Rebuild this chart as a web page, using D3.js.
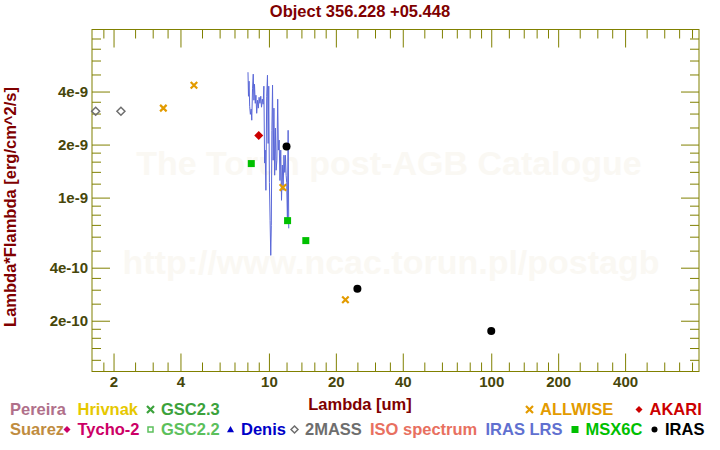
<!DOCTYPE html>
<html><head><meta charset="utf-8">
<script src="https://cdn.jsdelivr.net/npm/d3@7"></script>
<style>body{margin:0;background:#fff}svg{display:block;font-family:"Liberation Sans",Arial,sans-serif;font-weight:bold}</style>
</head><body><svg id="c" width="720" height="450"></svg>
<script>
// ---- data ----
const title = "Object 356.228 +05.448";
const xMajor = [2, 4, 10, 20, 40, 100, 200, 400];
const xMinor = [1.8, 2.5, 3, 3.5, 5, 6, 7, 8, 9, 12, 14, 16, 18, 25, 30, 35, 50, 60, 70, 80, 90, 120, 140, 160, 180, 250, 300, 350, 500, 600, 700, 800];
const yMajor = [2e-10, 4e-10, 1e-9, 2e-9, 4e-9];
const yMajorLabels = ["2e-10", "4e-10", "1e-9", "2e-9", "4e-9"];
const yMinor = [1.2e-10, 1.4e-10, 1.6e-10, 1.8e-10, 2.5e-10, 3e-10, 3.5e-10, 5e-10, 6e-10, 7e-10, 8e-10, 9e-10, 1.2e-9, 1.4e-9, 1.6e-9, 1.8e-9, 2.5e-9, 3e-9, 3.5e-9, 5e-9, 6e-9, 7e-9, 8e-9];

const twomassLam = [1.662, 2.159];
const twomassFlux = [3.09e-9, 3.09e-9];
const allwiseLam = [3.35, 4.6, 11.56, 22.08];
const allwiseFlux = [3.22e-9, 4.34e-9, 1.14e-9, 2.63e-10];
const akariLam = [9.0];
const akariFlux = [2.25e-9];
const msxLam = [8.33, 12.13, 14.65];
const msxFlux = [1.56e-9, 7.4e-10, 5.7e-10];
const irasLam = [12, 25, 100];
const irasFlux = [1.95e-9, 3.04e-10, 1.75e-10];

const lrsLam = [8.05, 8.09, 8.14, 8.19, 8.25, 8.32, 8.37, 8.44, 8.50, 8.56, 8.61, 8.68, 8.74, 8.81, 8.89, 8.96, 9.03, 9.11, 9.19, 9.26, 9.34, 9.42, 9.49, 9.56, 9.62, 9.69, 9.77, 9.85, 9.92, 9.98, 10.05, 10.12, 10.19, 10.25, 10.31, 10.38, 10.45, 10.53, 10.61, 10.69, 10.77, 10.86, 10.95, 11.03, 11.12, 11.21, 11.30, 11.39, 11.49, 11.58, 11.68, 11.78, 11.86, 11.95, 12.02, 12.11, 12.20, 12.28];
const lrsFlux = [5.15e-9, 3.76e-9, 4.58e-9, 3.30e-9, 2.97e-9, 3.18e-9, 2.75e-9, 4.18e-9, 5.02e-9, 3.57e-9, 4.40e-9, 3.43e-9, 3.81e-9, 3.01e-9, 3.57e-9, 3.22e-9, 3.71e-9, 3.43e-9, 3.76e-9, 3.26e-9, 3.62e-9, 3.39e-9, 4.29e-9, 1.57e-9, 1.86e-9, 1.10e-9, 3.76e-9, 4.95e-9, 2.03e-9, 4.29e-9, 1.22e-9, 7.43e-10, 4.70e-10, 6.96e-10, 2.41e-9, 4.35e-9, 1.63e-9, 3.22e-9, 1.34e-9, 2.48e-9, 1.43e-9, 1.63e-9, 3.62e-9, 1.86e-9, 2.12e-9, 1.25e-9, 1.86e-9, 9.65e-10, 1.53e-9, 1.10e-9, 1.74e-9, 1.39e-9, 1.74e-9, 1.34e-9, 1.22e-9, 7.43e-10, 2.41e-9, 6.69e-10];

const legendRow1 = [
  {label:"Pereira", color:"#b0708a", sym:null, x:10},
  {label:"Hrivnak", color:"#e6c800", sym:null, x:77.5},
  {label:"GSC2.3", color:"#3ca23c", sym:"x", x:161},
  {label:"ALLWISE", color:"#e39b00", sym:"x", x:540},
  {label:"AKARI", color:"#cc0000", sym:"diamond", x:649.5}
];
const legendRow2 = [
  {label:"Suarez", color:"#c08c40", sym:null, x:10},
  {label:"Tycho-2", color:"#cc0066", sym:"diamond", x:77.5},
  {label:"GSC2.2", color:"#5cc05c", sym:"square-open", x:161},
  {label:"Denis", color:"#0000c8", sym:"triangle", x:241},
  {label:"2MASS", color:"#6e6e6e", sym:"diamond-open", x:305},
  {label:"ISO spectrum", color:"#e87060", sym:null, x:370},
  {label:"IRAS LRS", color:"#6070d0", sym:null, x:485.5},
  {label:"MSX6C", color:"#00c000", sym:"square", x:585.5},
  {label:"IRAS", color:"#000000", sym:"circle", x:665}
];

// ---- chart ----
const svg = d3.select("#c");
const L = 92, R = 699, T = 29.5, B = 371.5;
const x = d3.scaleLog().domain([1.6, 860]).range([L, R]);
const y = d3.scaleLog().domain([1.03e-10, 9.0e-9]).range([B, T]);
const axisCol = "#808000", tickTxt = "#46460a";

// watermark
svg.append("text").attr("x", 389).attr("y", 175).attr("text-anchor", "middle")
  .attr("font-size", 34).attr("fill", "#faf8f3").text("The Torun post-AGB Catalogue");
svg.append("text").attr("x", 391).attr("y", 274).attr("text-anchor", "middle")
  .attr("font-size", 34).attr("fill", "#faf8f3").text("http://www.ncac.torun.pl/postagb");

// title
svg.append("text").attr("x", 360).attr("y", 17).attr("text-anchor", "middle")
  .attr("font-size", 16.5).attr("fill", "#800000").text(title);

function styleAxis(g, labels) {
  g.select(".domain").remove();
  g.selectAll(".tick line").attr("stroke", axisCol);
  g.selectAll(".tick text").attr("fill", tickTxt).attr("font-size", 15)
    .attr("font-family", '"Liberation Sans",Arial,sans-serif').attr("font-weight", "bold");
  if (!labels) g.selectAll(".tick text").remove();
}
const fmtY = d => yMajorLabels[yMajor.indexOf(d)];
// bottom
svg.append("g").attr("transform", `translate(0,${B})`)
  .call(d3.axisBottom(x).tickValues(xMajor).tickSize(-18).tickPadding(5).tickFormat(d3.format("d"))).call(g => styleAxis(g, true));
svg.append("g").attr("transform", `translate(0,${B})`)
  .call(d3.axisBottom(x).tickValues(xMinor).tickSize(-9)).call(g => styleAxis(g, false));
// top
svg.append("g").attr("transform", `translate(0,${T})`)
  .call(d3.axisTop(x).tickValues(xMajor).tickSize(-18)).call(g => styleAxis(g, false));
svg.append("g").attr("transform", `translate(0,${T})`)
  .call(d3.axisTop(x).tickValues(xMinor).tickSize(-9)).call(g => styleAxis(g, false));
// left
svg.append("g").attr("transform", `translate(${L},0)`)
  .call(d3.axisLeft(y).tickValues(yMajor).tickSize(-18).tickPadding(4).tickFormat(fmtY)).call(g => styleAxis(g, true));
svg.append("g").attr("transform", `translate(${L},0)`)
  .call(d3.axisLeft(y).tickValues(yMinor).tickSize(-9)).call(g => styleAxis(g, false));
// right
svg.append("g").attr("transform", `translate(${R},0)`)
  .call(d3.axisRight(y).tickValues(yMajor).tickSize(-18)).call(g => styleAxis(g, false));
svg.append("g").attr("transform", `translate(${R},0)`)
  .call(d3.axisRight(y).tickValues(yMinor).tickSize(-9)).call(g => styleAxis(g, false));
// frame
svg.append("rect").attr("x", L).attr("y", T).attr("width", R - L).attr("height", B - T)
  .attr("fill", "none").attr("stroke", axisCol).attr("stroke-width", 1);

// axis titles
svg.append("text").attr("x", 360).attr("y", 410).attr("text-anchor", "middle")
  .attr("font-size", 16.5).attr("fill", "#800000").text("Lambda [um]");
svg.append("text").attr("transform", "translate(15.5,207) rotate(-90)").attr("text-anchor", "middle")
  .attr("font-size", 16.5).attr("fill", "#800000").text("Lambda*Flambda [erg/cm^2/s]");

// symbol drawing
function drawSym(g, type, cx, cy, s, color) {
  const h = s / 2;
  if (type === "x") {
    g.append("path").attr("d", `M${cx-h},${cy-h}L${cx+h},${cy+h}M${cx-h},${cy+h}L${cx+h},${cy-h}`)
      .attr("stroke", color).attr("stroke-width", 2.2).attr("fill", "none");
  } else if (type === "diamond" || type === "diamond-open") {
    const p = g.append("path").attr("d", `M${cx},${cy-h}L${cx+h},${cy}L${cx},${cy+h}L${cx-h},${cy}Z`);
    if (type === "diamond") p.attr("fill", color);
    else p.attr("fill", "none").attr("stroke", color).attr("stroke-width", 1.5);
  } else if (type === "square" || type === "square-open") {
    const p = g.append("rect").attr("x", cx - h).attr("y", cy - h).attr("width", s).attr("height", s);
    if (type === "square") p.attr("fill", color);
    else p.attr("fill", "none").attr("stroke", color).attr("stroke-width", 1.5);
  } else if (type === "circle") {
    g.append("circle").attr("cx", cx).attr("cy", cy).attr("r", h).attr("fill", color);
  } else if (type === "triangle") {
    g.append("path").attr("d", `M${cx},${cy-h}L${cx+h},${cy+h*0.8}L${cx-h},${cy+h*0.8}Z`).attr("fill", color);
  }
}

// IRAS LRS spectrum
const lrs = lrsLam.map((l, i) => [l, lrsFlux[i]]);
svg.append("path").datum(lrs)
  .attr("d", d3.line().x(d => x(d[0])).y(d => y(d[1])))
  .attr("fill", "none").attr("stroke", "#5a68d8").attr("stroke-width", 1);

const marks = svg.append("g");
twomassLam.forEach((l, i) => drawSym(marks, "diamond-open", x(l), y(twomassFlux[i]), 8, "#6e6e6e"));
allwiseLam.forEach((l, i) => drawSym(marks, "x", x(l), y(allwiseFlux[i]), 6.5, "#e39b00"));
akariLam.forEach((l, i) => drawSym(marks, "diamond", x(l), y(akariFlux[i]), 9, "#cc0000"));
msxLam.forEach((l, i) => drawSym(marks, "square", x(l), y(msxFlux[i]), 7, "#00c000"));
irasLam.forEach((l, i) => drawSym(marks, "circle", x(l), y(irasFlux[i]), 8, "#000000"));

// legend
function legendRow(items, baseline) {
  const g = svg.append("g");
  items.forEach(it => {
    g.append("text").attr("x", it.x).attr("y", baseline).attr("font-size", 16.5)
      .attr("fill", it.color).text(it.label);
    if (it.sym) {
      const sz = it.sym === "square-open" ? 5 : (it.sym === "circle" ? 6 : 7);
      drawSym(g, it.sym, it.x - 10.5, baseline - 5.5, sz, it.color);
    }
  });
}
legendRow(legendRow1, 415);
legendRow(legendRow2, 435);
</script></body></html>
